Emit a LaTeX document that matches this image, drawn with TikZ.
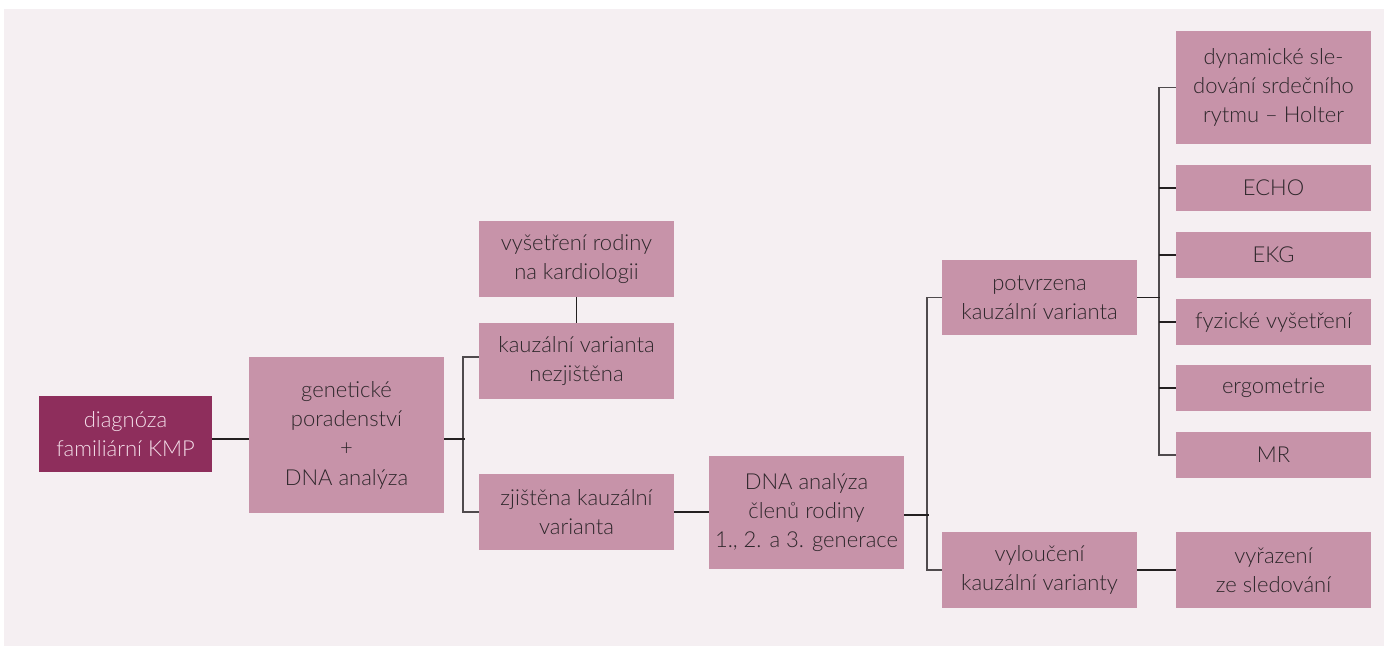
\documentclass[tikz,border=0pt]{standalone}
\usepackage{fontspec}
\setmainfont{Lato Light}
\definecolor{bgc}{HTML}{F5EFF2}
\definecolor{boxpink}{HTML}{C793A9}
\definecolor{boxdark}{HTML}{8E2E5C}
\definecolor{txt}{HTML}{2E272B}
\definecolor{lighttxt}{HTML}{F3DDE8}
\definecolor{lnc}{HTML}{231F20}
\definecolor{brc}{HTML}{4F4A4D}
\begin{document}
\begin{tikzpicture}[x=1pt,y=-1pt,
  box/.style={fill=boxpink, text=txt, align=center, inner sep=0pt,
    minimum width=195pt, font=\fontsize{22}{29.3}\selectfont},
  darkbox/.style={box, fill=boxdark, text=lighttxt, minimum width=173pt},
  ln/.style={draw=lnc, line width=1.7pt},
  br/.style={draw=brc, line width=1.2pt}]
\useasboundingbox (0,0) rectangle (1384,646);
\fill[bgc] (4,9) rectangle (1384,646);

\node[darkbox, minimum height=76pt] (diag) at (125.5,434) {diagnóza\\familiární KMP};
\node[box, minimum height=156pt] (gen) at (346.5,435) {genetické\\poradenství\\+\\DNA analýza};
\node[box, minimum height=76pt] (vys) at (576.5,259) {vyšetření rodiny\\na kardiologii};
\node[box, minimum height=76pt] (nez) at (576.5,361) {kauzální varianta\\nezjištěna};
\node[box, minimum height=76pt] (zji) at (576.5,512) {zjištěna kauzální\\varianta};
\node[box, minimum height=113pt] (dna) at (806.5,512.5) {DNA analýza\\členů rodiny\\1., 2. a 3. generace};
\node[box, minimum height=75pt] (pot) at (1039.5,297.5) {potvrzena\\kauzální varianta};
\node[box, minimum height=76pt] (vyl) at (1039.5,570) {vyloučení\\kauzální varianty};
\node[box, minimum height=113pt] (hol) at (1273.5,87.5) {dynamické sle-\\dování srdečního\\rytmu – Holter};
\node[box, minimum height=46pt] (echo) at (1273.5,188) {ECHO};
\node[box, minimum height=46pt] (ekg) at (1273.5,255) {EKG};
\node[box, minimum height=46pt] (fyz) at (1273.5,322) {fyzické vyšetření};
\node[box, minimum height=46pt] (erg) at (1273.5,388) {ergometrie};
\node[box, minimum height=46pt] (mr) at (1273.5,455) {MR};
\node[box, minimum height=76pt] (vyr) at (1273.5,570) {vyřazení\\ze sledování};

\coordinate (b1) at (463,438.7);
\coordinate (b2) at (927,515);
\coordinate (b3) at (1159,297.5);

\draw[ln] ([yshift=-4.7pt]diag.east) -- ([yshift=-4.7pt]diag.east -| gen.west);
\draw[br] ([yshift=4pt]nez.west) -| (b1) |- (zji.west);
\draw[ln] (gen.east |- b1) -- ([xshift=2pt]b1);
\draw[ln] (vys) -- (nez);
\draw[ln] (zji.east) -- (zji.east -| dna.west);
\draw[br] (pot.west) -| (b2) |- (vyl.west);
\draw[ln] (dna.east |- b2) -- ([xshift=2pt]b2);
\draw[br] (hol.west) -| (b3) |- (mr.west);
\draw[ln] (pot.east) -- ([xshift=1pt]b3);
\foreach \n in {echo,ekg,fyz,erg} \draw[ln] (\n.west) -- (\n.west -| b3);
\draw[ln] (vyl.east) -- (vyr.west);
\end{tikzpicture}
\end{document}
